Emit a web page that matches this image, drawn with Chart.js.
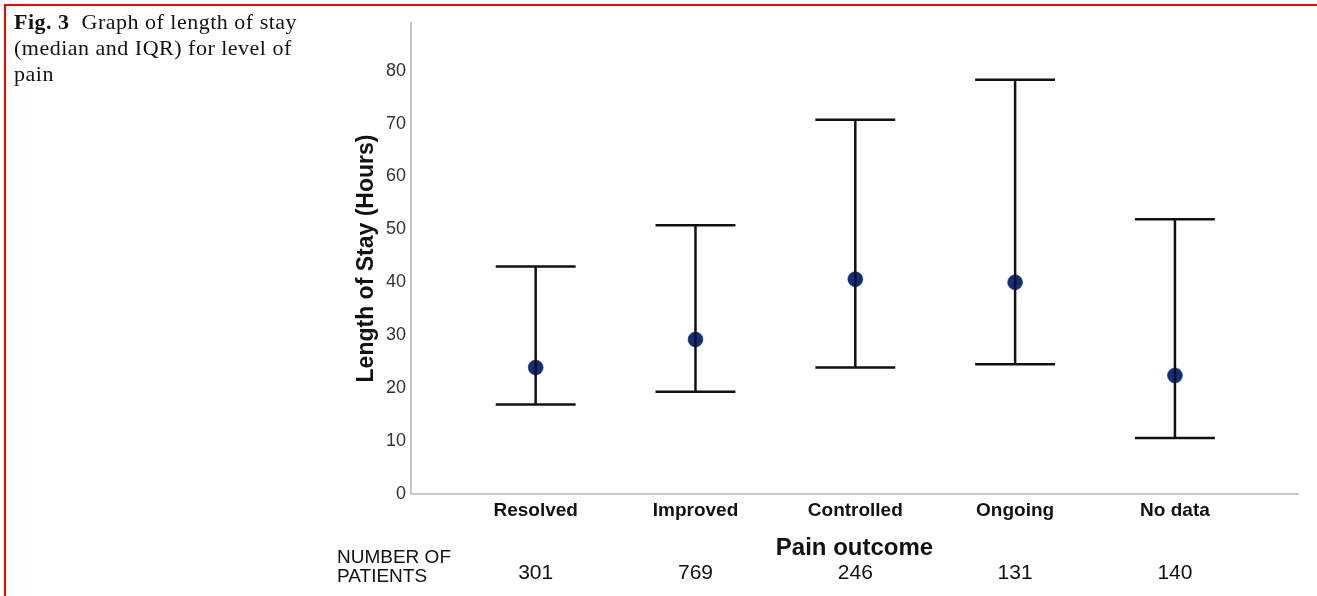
<!DOCTYPE html>
<html><head><meta charset="utf-8">
<script src="https://cdn.jsdelivr.net/npm/chart.js@4/dist/chart.umd.min.js"></script>
<style>
html,body{margin:0;padding:0;background:#fff;width:1317px;height:596px;overflow:hidden;}
#wrap{position:absolute;left:0;top:0;width:1317px;height:596px;}
#frame{position:absolute;left:4px;top:4px;width:1400px;height:700px;border-left:2px solid #f00;border-top:2px solid #f00;box-sizing:border-box;pointer-events:none;}
#cap{position:absolute;left:14px;top:9px;font-family:"Liberation Serif","Times New Roman",serif;font-size:22px;letter-spacing:0.5px;line-height:26px;color:#111;white-space:nowrap;}
</style></head><body>
<div id="wrap"><canvas id="c" width="1317" height="596"></canvas></div>
<div id="frame"></div>
<div id="cap"><b>Fig. 3</b>&nbsp; Graph of length of stay<br>(median and IQR) for level of<br>pain</div>
<script>
const categories = ["Resolved", "Improved", "Controlled", "Ongoing", "No data"];
const medians = [23.9, 29.2, 40.6, 40.0, 22.4];
const q1 = [16.9, 19.3, 23.9, 24.5, 10.6];
const q3 = [43.0, 50.8, 70.7, 78.3, 51.9];
const patientCounts = [301, 769, 246, 131, 140];
const yTicks = [0, 10, 20, 30, 40, 50, 60, 70, 80];

const CAP = 0.25;
const stemData = [], capData = [];
categories.forEach((c, i) => {
  stemData.push({x: i, y: q1[i]}, {x: i, y: q3[i]}, {x: i, y: null});
  capData.push({x: i - CAP, y: q3[i]}, {x: i + CAP, y: q3[i]}, {x: i, y: null});
  capData.push({x: i - CAP, y: q1[i]}, {x: i + CAP, y: q1[i]}, {x: i, y: null});
});
const medianData = medians.map((m, i) => ({x: i, y: m}));

const countsPlugin = {
  id: 'counts',
  afterDraw(chart) {
    const ctx = chart.ctx, xs = chart.scales.x;
    ctx.save();
    ctx.fillStyle = '#111';
    ctx.textBaseline = 'middle';
    ctx.textAlign = 'left';
    ctx.font = '19px "Liberation Sans", Arial, sans-serif';
    ctx.fillText('NUMBER OF', 337, 558);
    ctx.fillText('PATIENTS', 337, 577);
    ctx.textAlign = 'center';
    ctx.font = '21px "Liberation Sans", Arial, sans-serif';
    patientCounts.forEach((n, i) => {
      ctx.fillText(String(n), xs.getPixelForValue(i), 573);
    });
    ctx.restore();
  }
};

new Chart(document.getElementById('c'), {
  type: 'scatter',
  data: {
    datasets: [
      {data: stemData, showLine: true, spanGaps: false, borderColor: '#111', borderWidth: 2.5, pointRadius: 0, borderCapStyle: 'butt'},
      {data: capData, showLine: true, spanGaps: false, borderColor: '#111', borderWidth: 2.5, pointRadius: 0, borderCapStyle: 'butt'},
      {data: medianData, showLine: false, pointRadius: 7.5, pointBackgroundColor: '#0f2f7c', pointBorderColor: '#0f2f7c', pointBorderWidth: 0.5}
    ]
  },
  options: {
    responsive: false,
    animation: false,
    events: [],
    layout: {padding: {left: 353, top: 23, right: 19, bottom: 0}},
    plugins: {legend: {display: false}, tooltip: {enabled: false}},
    scales: {
      x: {
        type: 'linear', min: -0.78, max: 4.77,
        grid: {display: false, drawTicks: false},
        border: {display: true, color: '#c8c8c8', width: 2},
        afterBuildTicks(s) { s.ticks = categories.map((c, i) => ({value: i})); },
        afterFit(s) { s.height = 102; },
        ticks: {
          padding: 5, autoSkip: false, maxRotation: 0,
          color: '#111',
          font: {family: '"Liberation Sans", Arial, sans-serif', size: 19, weight: 'bold'},
          callback: (v) => categories[v] ?? ''
        },
        title: {
          display: true, text: 'Pain outcome', color: '#111',
          font: {family: '"Liberation Sans", Arial, sans-serif', size: 24, weight: 'bold'},
          padding: {top: 0, bottom: 33}
        }
      },
      y: {
        type: 'linear', min: 0, max: 89,
        grid: {display: false, drawTicks: false},
        border: {display: true, color: '#c8c8c8', width: 2},
        afterBuildTicks(s) { s.ticks = yTicks.map(v => ({value: v})); },
        afterFit(s) { s.width = 58; },
        ticks: {
          padding: 5, color: '#333',
          font: {family: '"Liberation Sans", Arial, sans-serif', size: 18}
        },
        title: {
          display: true, text: 'Length of Stay (Hours)', color: '#111',
          font: {family: '"Liberation Sans", Arial, sans-serif', size: 23, weight: 'bold'},
          padding: {top: 0, bottom: 0}
        }
      }
    }
  },
  plugins: [countsPlugin]
});
</script>
</body></html>
